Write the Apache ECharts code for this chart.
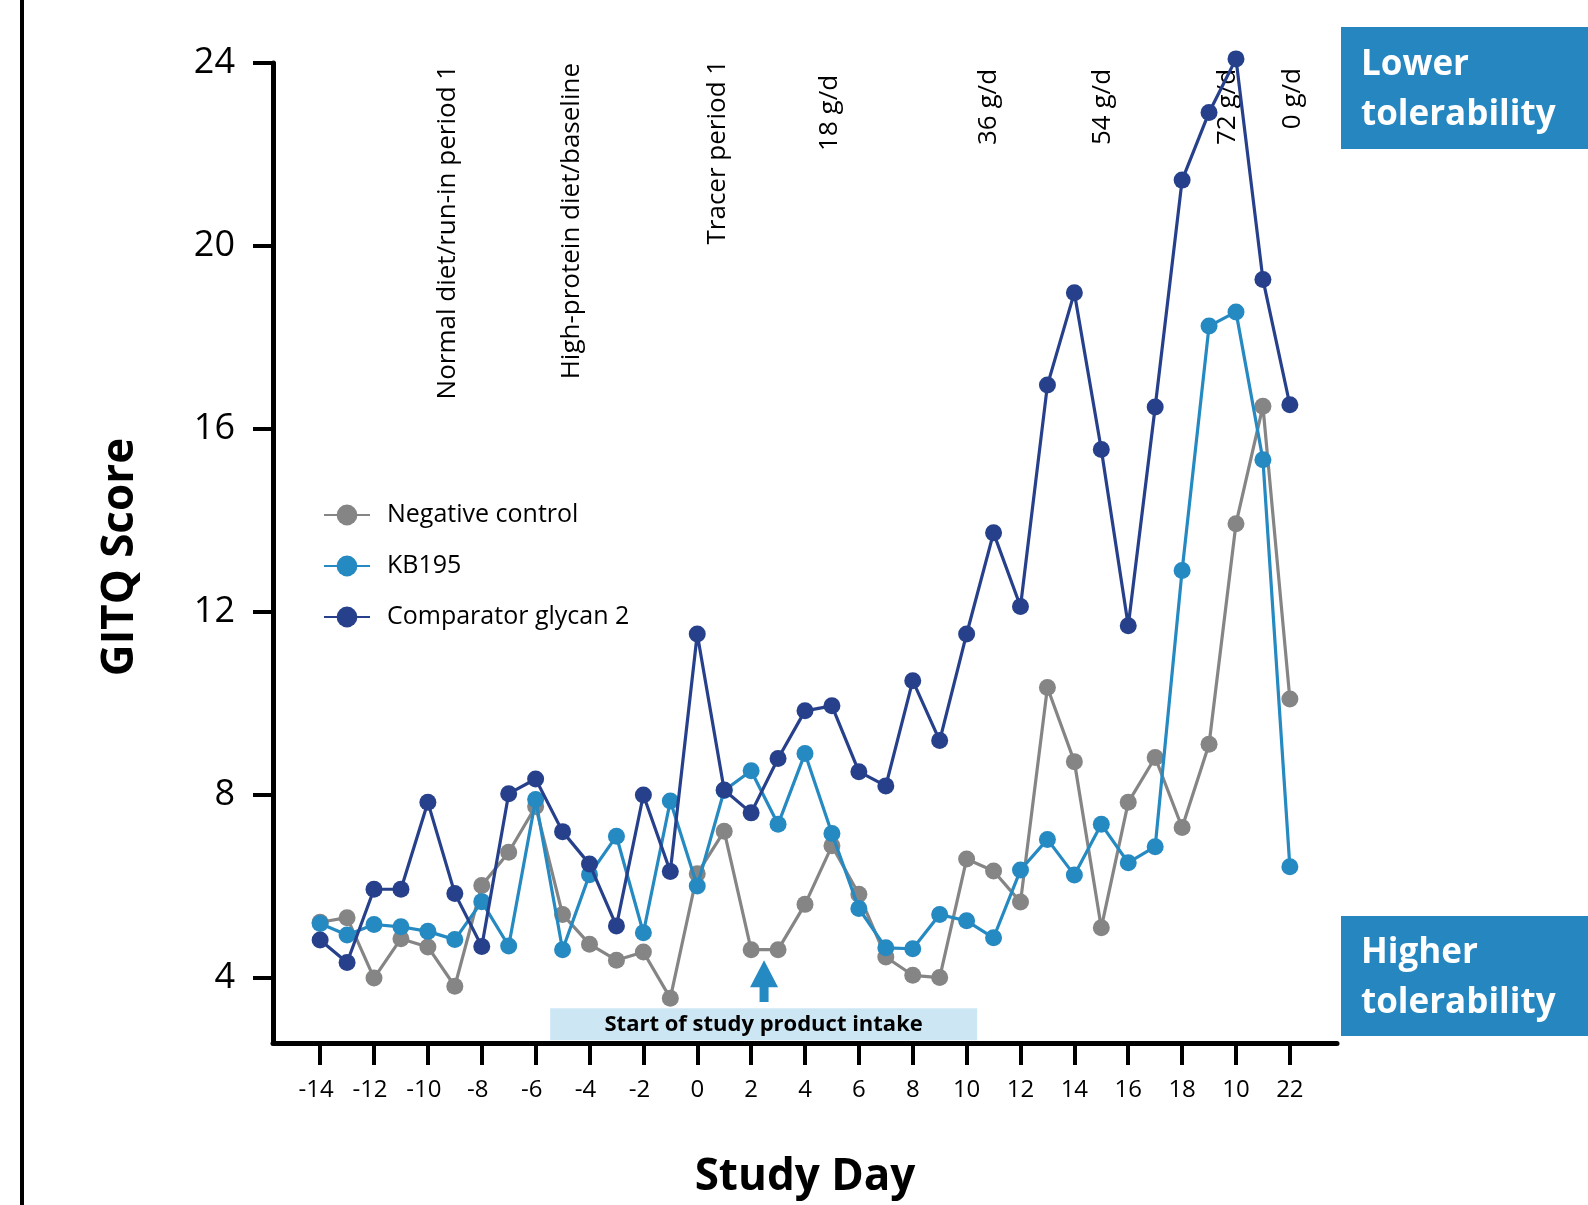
<!DOCTYPE html>
<html><head><meta charset="utf-8">
<script src="https://cdn.jsdelivr.net/npm/echarts@6/dist/echarts.min.js"></script>
<style>html,body{margin:0;padding:0;background:#fff}#c{width:1588px;height:1205px}</style>
</head><body><div id="c"></div>
<script>
// ---- data ----
const days = [-14,-13,-12,-11,-10,-9,-8,-7,-6,-5,-4,-3,-2,-1,0,1,2,3,4,5,6,7,8,9,10,11,12,13,14,15,16,17,18,19,20,21,22];
const negativeControl = [5.22,5.32,4.0,4.86,4.68,3.82,6.02,6.75,7.75,5.39,4.74,4.39,4.57,3.56,6.28,7.21,4.62,4.62,5.61,6.89,5.83,4.46,4.06,4.01,6.6,6.34,5.66,10.35,8.73,5.1,7.84,8.82,7.29,9.11,13.93,16.5,10.1];
const kb195 = [5.19,4.94,5.17,5.12,5.02,4.84,5.67,4.70,7.9,4.62,6.26,7.1,4.99,7.87,6.01,8.1,8.53,7.36,8.91,7.16,5.52,4.66,4.64,5.39,5.25,4.88,6.36,7.03,6.25,7.36,6.52,6.87,12.91,18.25,18.56,15.33,6.43];
const comparator = [4.83,4.34,5.94,5.94,7.84,5.85,4.69,8.03,8.35,7.2,6.49,5.14,8.0,6.33,11.52,8.11,7.61,8.8,9.84,9.95,8.51,8.2,10.5,9.19,11.52,13.73,12.12,16.96,18.98,15.55,11.7,16.48,21.44,22.92,24.09,19.27,16.53];
const seriesNames = ['Negative control','KB195','Comparator glycan 2'];
const xTickValues = [-14,-12,-10,-8,-6,-4,-2,0,2,4,6,8,10,12,14,16,18,20,22];
const xTickLabels = ['-14','-12','-10','-8','-6','-4','-2','0','2','4','6','8','10','12','14','16','18','10','22'];
const yTickValues = [4,8,12,16,20,24];
const yTickLabels = ['4','8','12','16','20','24'];
const phaseLabels = ['Normal diet/run-in period 1','High-protein diet/baseline','Tracer period 1','18 g/d','36 g/d','54 g/d','72 g/d','0 g/d'];
const phaseDays = [-9.25,-4.65,0.74,4.93,10.80,15.06,19.67,22.12];
const phaseTops = [23.96,24.0,24.07,23.74,23.87,23.87,23.87,23.89];
const intakeStartDay = 2.48;
const bandLabel = 'Start of study product intake';
const bandDays = [-5.46, 10.39];
const toleranceLabels = ['Lower\ntolerability','Higher\ntolerability'];

// ---- styles ----
const FONT = '"Open Sans", "Noto Sans", sans-serif';
const colors = ['#858585','#2589c2','#27408b'];
const yMin = 2.58, yMax = 24, xMin = -15.75, xMax = 23.75;

function pairs(vals){ return days.map((d,i)=>[d, vals[i]]); }
const allVals = [negativeControl, kb195, comparator];

const option = {
  animation: false,
  backgroundColor: '#fff',
  textStyle: { fontFamily: FONT },
  grid: { left: 273, right: 251, top: 63, bottom: 162, containLabel: false },
  legend: {
    orient: 'vertical', left: 318, top: 496,
    itemWidth: 46, itemHeight: 26, itemGap: 23,
    textStyle: { fontSize: 25, fontFamily: FONT, color: '#000', lineHeight: 28, padding: [0,0,0,12] },
    data: seriesNames
  },
  xAxis: {
    type: 'value', min: xMin, max: xMax,
    name: 'Study Day', nameLocation: 'middle', nameGap: 112,
    nameTextStyle: { fontSize: 44, fontWeight: 'bold', color: '#000', fontFamily: FONT },
    axisLine: { show: true, onZero: false, lineStyle: { color: '#000', width: 5 } },
    axisTick: { show: true, customValues: xTickValues, length: 22, lineStyle: { color: '#000', width: 4 } },
    axisLabel: {
      customValues: xTickValues, margin: 35, fontSize: 24, color: '#000', fontFamily: FONT,
      formatter: function (v) {
        const i = xTickValues.indexOf(Math.round(v));
        const t = i >= 0 ? xTickLabels[i] : '';
        return t.charAt(0) === '-' ? '{neg|' + t + '}' : t;
      },
      rich: { neg: { fontSize: 24, fontFamily: FONT, color: '#000', padding: [0, 8, 0, 0] } }
    },
    splitLine: { show: false }
  },
  yAxis: {
    type: 'value', min: yMin, max: yMax,
    name: 'GITQ Score', nameLocation: 'middle', nameGap: 131, nameRotate: 90,
    nameTextStyle: { fontSize: 44, fontWeight: 'bold', color: '#000', fontFamily: FONT, padding: [0, 8, 0, 0] },
    axisLine: { show: true, onZero: false, lineStyle: { color: '#000', width: 5 } },
    axisTick: { show: true, customValues: yTickValues, length: 20, lineStyle: { color: '#000', width: 4 } },
    axisLabel: {
      customValues: yTickValues, margin: 38, fontSize: 36, color: '#000', fontFamily: FONT,
      formatter: function (v) { const i = yTickValues.indexOf(Math.round(v)); return i >= 0 ? yTickLabels[i] : ''; }
    },
    splitLine: { show: false }
  },
  series: seriesNames.map((n, k) => ({
    name: n, type: 'line', data: pairs(allVals[k]), clip: false,
    symbol: 'circle', symbolSize: 17, z: 3 + k,
    lineStyle: { color: colors[k], width: 3.2 },
    itemStyle: { color: colors[k] },
    markArea: k === 0 ? {
      silent: true,
      itemStyle: { color: '#cde6f4' },
      label: { show: true, position: 'inside', color: '#000', fontSize: 22, fontWeight: 'bold', fontFamily: FONT },
      data: [[{ name: bandLabel, coord: [bandDays[0], 2.64] }, { coord: [bandDays[1], 3.34] }]]
    } : undefined
  }))
};

const chart = echarts.init(document.getElementById('c'), null, { renderer: 'canvas' });
chart.setOption(option);

function px(d, v) { return chart.convertToPixel({ xAxisIndex: 0, yAxisIndex: 0 }, [d, v]); }
const g = [];
// far-left border line
g.push({ type: 'rect', shape: { x: 20, y: 0, width: 4, height: 1205 }, style: { fill: '#000' }, silent: true });
// phase annotations
phaseLabels.forEach((t, i) => {
  const p = px(phaseDays[i], phaseTops[i]);
  g.push({ type: 'text', x: p[0], y: p[1], rotation: Math.PI / 2, silent: true,
    style: { text: t, fontSize: 26, fontFamily: FONT, fill: '#000', align: 'right', verticalAlign: 'middle' } });
});
// arrow for intake start
(function () {
  const tip = px(intakeStartDay, 4.39), base = px(intakeStartDay, 3.475);
  const cx = tip[0], ty = tip[1], by = base[1], hh = 27, hw = 14, sw = 4.5;
  g.push({ type: 'polygon', silent: true, shape: { points: [
    [cx, ty], [cx + hw, ty + hh], [cx + sw, ty + hh], [cx + sw, by], [cx - sw, by], [cx - sw, ty + hh], [cx - hw, ty + hh]
  ] }, style: { fill: '#2589c2' } });
})();
// tolerability boxes
[[27, 122], [916, 120]].forEach((b, i) => {
  g.push({ type: 'rect', silent: true, shape: { x: 1341, y: b[0], width: 247, height: b[1] }, style: { fill: '#2687c0' } });
  g.push({ type: 'text', silent: true, x: 1361, y: b[0] + b[1] / 2 + 2,
    style: { text: toleranceLabels[i], fontSize: 35, fontWeight: 'bold', fontFamily: FONT, fill: '#fff', lineHeight: 50, align: 'left', verticalAlign: 'middle' } });
});
chart.setOption({ graphic: g });
</script>
</body></html>
